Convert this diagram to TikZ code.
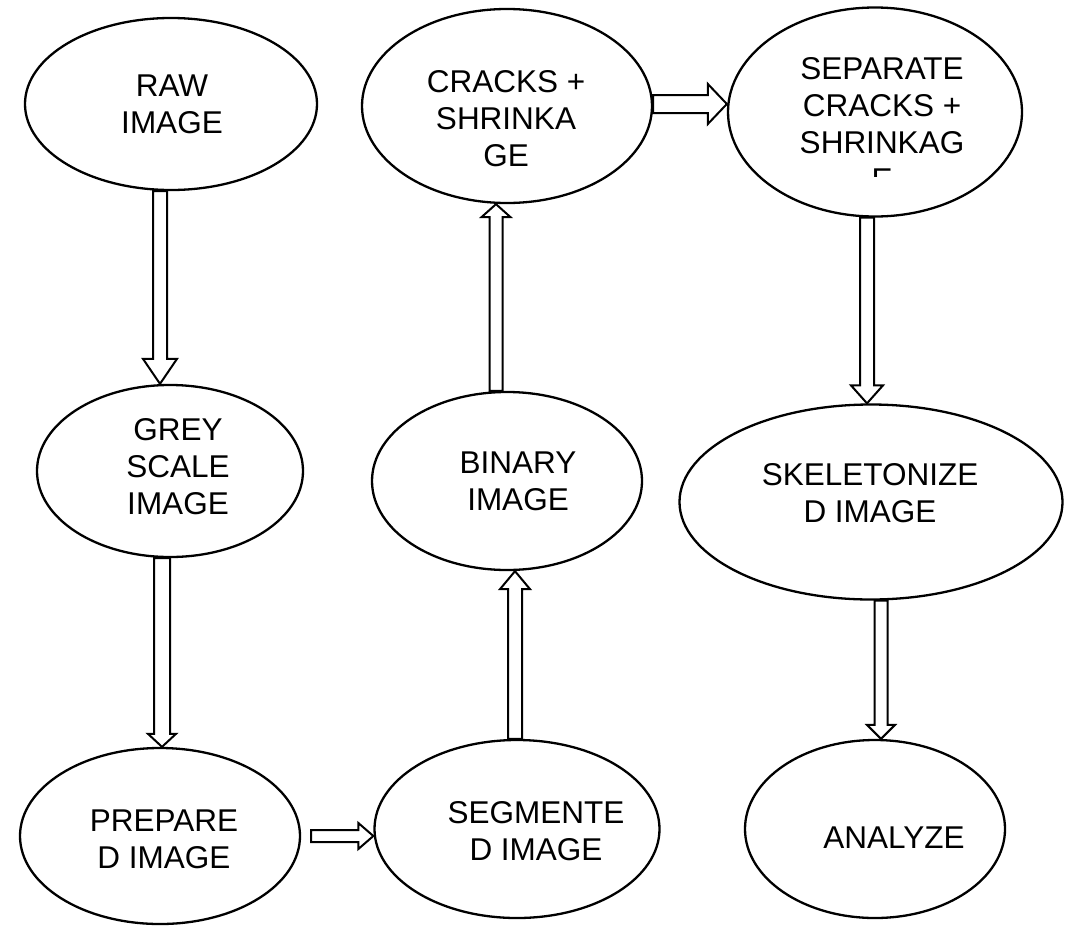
\documentclass[tikz,border=0pt]{standalone}
\usepackage{fontspec}
\setmainfont{Liberation Sans}
\usetikzlibrary{shapes.geometric,calc}
\tikzset{
  box/.style={draw=black, line width=2.3pt, ellipse, inner sep=0pt, fill=white},
  txt/.style={font=\fontsize{31.5}{37}\selectfont, align=center, inner sep=0pt, anchor=base},
  blk/.style={draw=black, line width=2pt, fill=white, line join=miter}
}
\newcommand\barrow[5]{%
  \coordinate (bs) at (#1);
  \coordinate (be) at (#2);
  \coordinate (bh) at ($(be)!#5!(bs)$);
  \draw[blk] ($(bs)!#3!90:(be)$) -- ($(bh)!#3!90:(be)$) -- ($(bh)!#4!90:(be)$) -- (be)
    -- ($(bh)!#4!-90:(be)$) -- ($(bh)!#3!-90:(be)$) -- ($(bs)!#3!-90:(be)$) -- cycle;}
\begin{document}
\begin{tikzpicture}[x=1pt,y=-1pt]
\useasboundingbox[fill=white] (0,0) rectangle (1067,926);
% ellipses
\node[box, minimum width=292pt, minimum height=172pt] (raw) at (171,104) {};
\node[box, minimum width=266pt, minimum height=172pt] (grey) at (170,471) {};
\node[box, minimum width=280pt, minimum height=176pt] (prep) at (160,836) {};
\node[box, minimum width=285pt, minimum height=178pt] (seg) at (517,829) {};
\node[box, minimum width=270pt, minimum height=178pt] (bin) at (507,481) {};
\node[box, minimum width=290pt, minimum height=194pt] (cracks) at (507,106) {};
\node[box, minimum width=294pt, minimum height=209pt] (sep) at (875,112) {};
\node[box, minimum width=383pt, minimum height=195pt] (skel) at (871,502) {};
\node[box, minimum width=260pt, minimum height=178pt] (ana) at (875,829) {};
% texts (anchor = baseline of the last line)
\node[txt] (traw) at (172,133) {RAW\\IMAGE};
\node[txt] (tgrey) at (178,514) {GREY\\SCALE\\IMAGE};
\node[txt] (tprep) at (164,868) {PREPARE\\D IMAGE};
\node[txt] (tseg) at (536,860) {SEGMENTE\\D IMAGE};
\node[txt] (tbin) at (518,510) {BINARY\\IMAGE};
\node[txt] (tcracks) at (506,166) {CRACKS +\\SHRINKA\\GE};
\begin{scope}
  \clip (700,0) rectangle (1067,176);
  \node[txt] (tsep) at (882,190) {SEPARATE\\CRACKS +\\SHRINKAG\\E};
\end{scope}
\node[txt] (tskel) at (870,522) {SKELETONIZE\\D IMAGE};
\node[txt] (tana) at (894,848) {ANALYZE};
% block arrows
\barrow{raw.south -| 160,0}{grey.north -| 160,0}{7pt}{17pt}{25pt}
\barrow{grey.south -| 162,0}{prep.north -| 162,0}{8pt}{14pt}{13pt}
\barrow{[xshift=10pt]prep.east}{seg.west |- 0,836}{6pt}{13pt}{15pt}
\barrow{seg.north -| 515,0}{bin.south -| 515,0}{7pt}{15pt}{18pt}
\barrow{bin.north -| 496,0}{cracks.south -| 496,0}{6.5pt}{14.5pt}{13pt}
\barrow{cracks.east |- 0,104}{sep.west |- 0,104}{9pt}{20pt}{19pt}
\barrow{sep.south -| 867,0}{skel.north -| 867,0}{7pt}{16pt}{18pt}
\barrow{skel.south -| 881,0}{ana.north -| 881,0}{6.5pt}{14pt}{14pt}
\end{tikzpicture}
\end{document}
